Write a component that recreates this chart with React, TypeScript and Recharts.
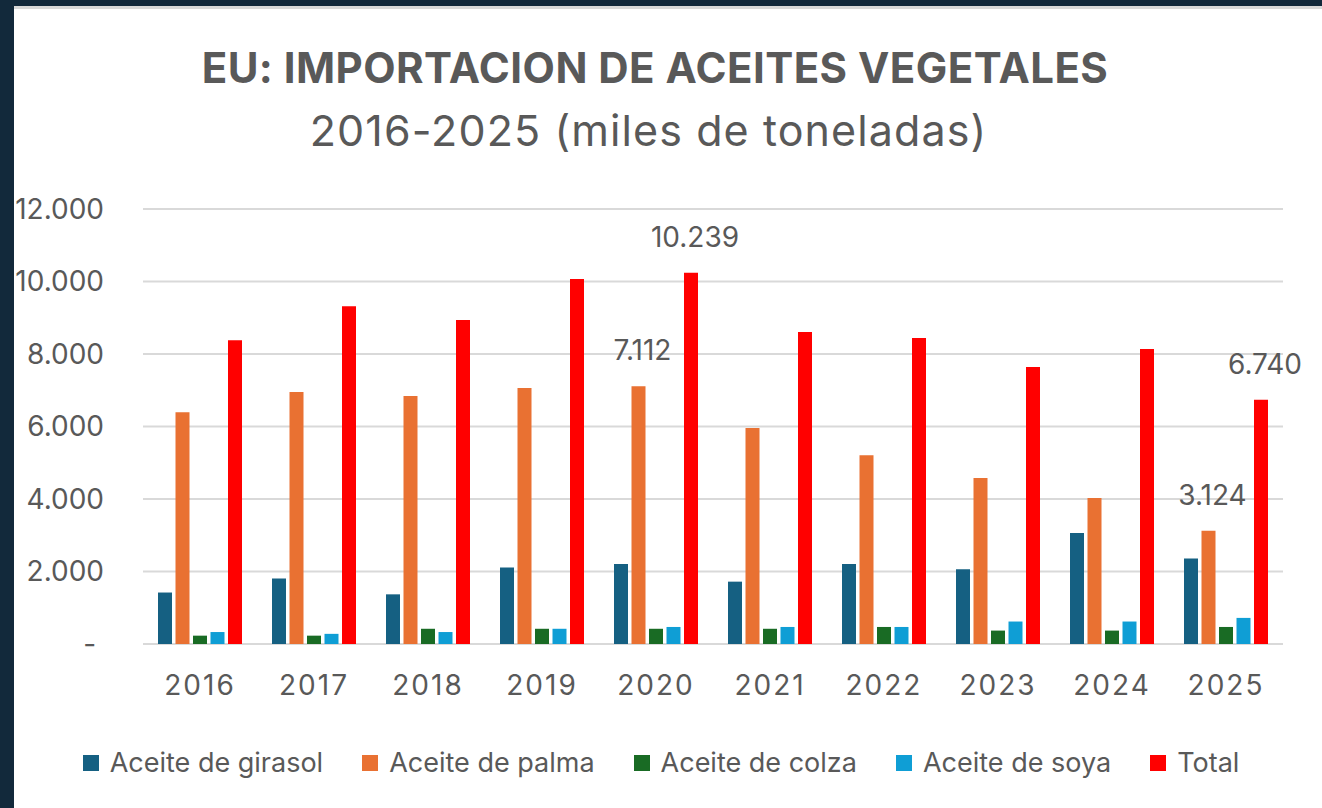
import { BarChart, Bar, XAxis, YAxis, CartesianGrid, Legend, LabelList } from "recharts";

const years = ["2016", "2017", "2018", "2019", "2020", "2021", "2022", "2023", "2024", "2025"];
const girasol = [1420, 1810, 1370, 2110, 2210, 1720, 2210, 2060, 3060, 2360];
const palma = [6390, 6950, 6840, 7060, 7112, 5960, 5210, 4580, 4030, 3124];
const colza = [230, 230, 420, 420, 420, 420, 470, 370, 370, 470];
const soya = [330, 280, 330, 420, 470, 470, 470, 620, 620, 720];
const total = [8380, 9320, 8940, 10070, 10239, 8610, 8440, 7640, 8140, 6740];

const seriesNames = ["Aceite de girasol", "Aceite de palma", "Aceite de colza", "Aceite de soya", "Total"];
// only these years carry value labels (palma and total)
const labeledYears = ["2020", "2025"];
const yTicks = [0, 2000, 4000, 6000, 8000, 10000, 12000];

const data = years.map((year, i) => ({
  year,
  girasol: girasol[i],
  palma: palma[i],
  colza: colza[i],
  soya: soya[i],
  total: total[i],
  palmaLabel: labeledYears.includes(year) ? palma[i] : null,
  totalLabel: labeledYears.includes(year) ? total[i] : null,
}));

const FONT = "Inter, 'Noto Sans', sans-serif";
const GREY = "#595959";

const fmt = (v: number) => String(v).replace(/\B(?=(\d{3})+(?!\d))/g, ".");
const fmtTick = (v: number) => (v === 0 ? "-\u00A0" : fmt(v));

const renderValueLabel = (props: any) => {
  const { value } = props;
  if (value == null) return null;
  const vb = props.viewBox || props;
  const cx = vb.x + vb.width / 2 + 4;
  return (
    <text x={cx} y={vb.y - 26} textAnchor="middle" fill={GREY} fontSize={28} fontFamily={FONT}>
      {fmt(value)}
    </text>
  );
};

const renderLegend = (props: any) => {
  const items = [...(props.payload || [])].sort(
    (a: any, b: any) => seriesNames.indexOf(a.value) - seriesNames.indexOf(b.value)
  );
  return (
    <div
      style={{
        display: "flex",
        justifyContent: "center",
        gap: 39,
        fontFamily: FONT,
        fontSize: 27,
        lineHeight: "36px",
        color: GREY,
      }}
    >
      {items.map((entry: any) => (
        <div key={entry.value} style={{ display: "flex", alignItems: "center" }}>
          <span style={{ width: 16, height: 16, background: entry.color, marginRight: 11 }} />
          <span>{entry.value}</span>
        </div>
      ))}
    </div>
  );
};

export default function App() {
  return (
    <div style={{ position: "absolute", top: 0, left: 0, width: 1322, height: 808, background: "#12293b" }}>
      <div
        style={{
          position: "absolute",
          top: 6,
          left: 14,
          right: 0,
          bottom: 0,
          background: "#ffffff",
          borderTop: "3px solid #d9d9d9",
        }}
      />
      <div
        style={{
          position: "absolute",
          top: 47,
          left: 0,
          width: 1310,
          textAlign: "center",
          fontFamily: FONT,
          fontWeight: 700,
          fontSize: 42,
          letterSpacing: 0.45,
          lineHeight: "41px",
          color: GREY,
        }}
      >
        EU: IMPORTACION DE ACEITES VEGETALES
      </div>
      <div
        style={{
          position: "absolute",
          top: 110,
          left: 0,
          width: 1297,
          textAlign: "center",
          fontFamily: FONT,
          fontSize: 43,
          letterSpacing: 1.1,
          lineHeight: "41px",
          color: GREY,
        }}
      >
        2016-2025 (miles de toneladas)
      </div>
      <div style={{ position: "absolute", top: 0, left: 0 }}>
        <BarChart
          width={1322}
          height={808}
          data={data}
          margin={{ top: 209, right: 39, bottom: 104, left: 0 }}
          barCategoryGap={15}
          barGap={3.5}
        >
          <CartesianGrid vertical={false} stroke="#d9d9d9" strokeWidth={2} />
          <XAxis
            dataKey="year"
            axisLine={false}
            tickLine={false}
            tickSize={0}
            tickMargin={31}
            height={60}
            tick={{ fill: GREY, fontSize: 28, fontFamily: FONT, letterSpacing: 2 }}
          />
          <YAxis
            domain={[0, 12000]}
            ticks={yTicks}
            axisLine={false}
            tickLine={false}
            tickSize={0}
            tickMargin={39}
            width={143}
            tickFormatter={fmtTick}
            tick={{ fill: GREY, fontSize: 28, fontFamily: FONT }}
          />
          <Legend
            verticalAlign="middle"
            layout="horizontal"
            content={renderLegend}
            wrapperStyle={{ top: 745, left: 0, width: 1322 }}
          />
          <Bar dataKey="girasol" name={seriesNames[0]} fill="#156082" isAnimationActive={false} />
          <Bar dataKey="palma" name={seriesNames[1]} fill="#e97132" isAnimationActive={false}>
            <LabelList dataKey="palmaLabel" content={renderValueLabel} />
          </Bar>
          <Bar dataKey="colza" name={seriesNames[2]} fill="#196b24" isAnimationActive={false} />
          <Bar dataKey="soya" name={seriesNames[3]} fill="#0f9ed5" isAnimationActive={false} />
          <Bar dataKey="total" name={seriesNames[4]} fill="#ff0000" isAnimationActive={false}>
            <LabelList dataKey="totalLabel" content={renderValueLabel} />
          </Bar>
        </BarChart>
      </div>
    </div>
  );
}
